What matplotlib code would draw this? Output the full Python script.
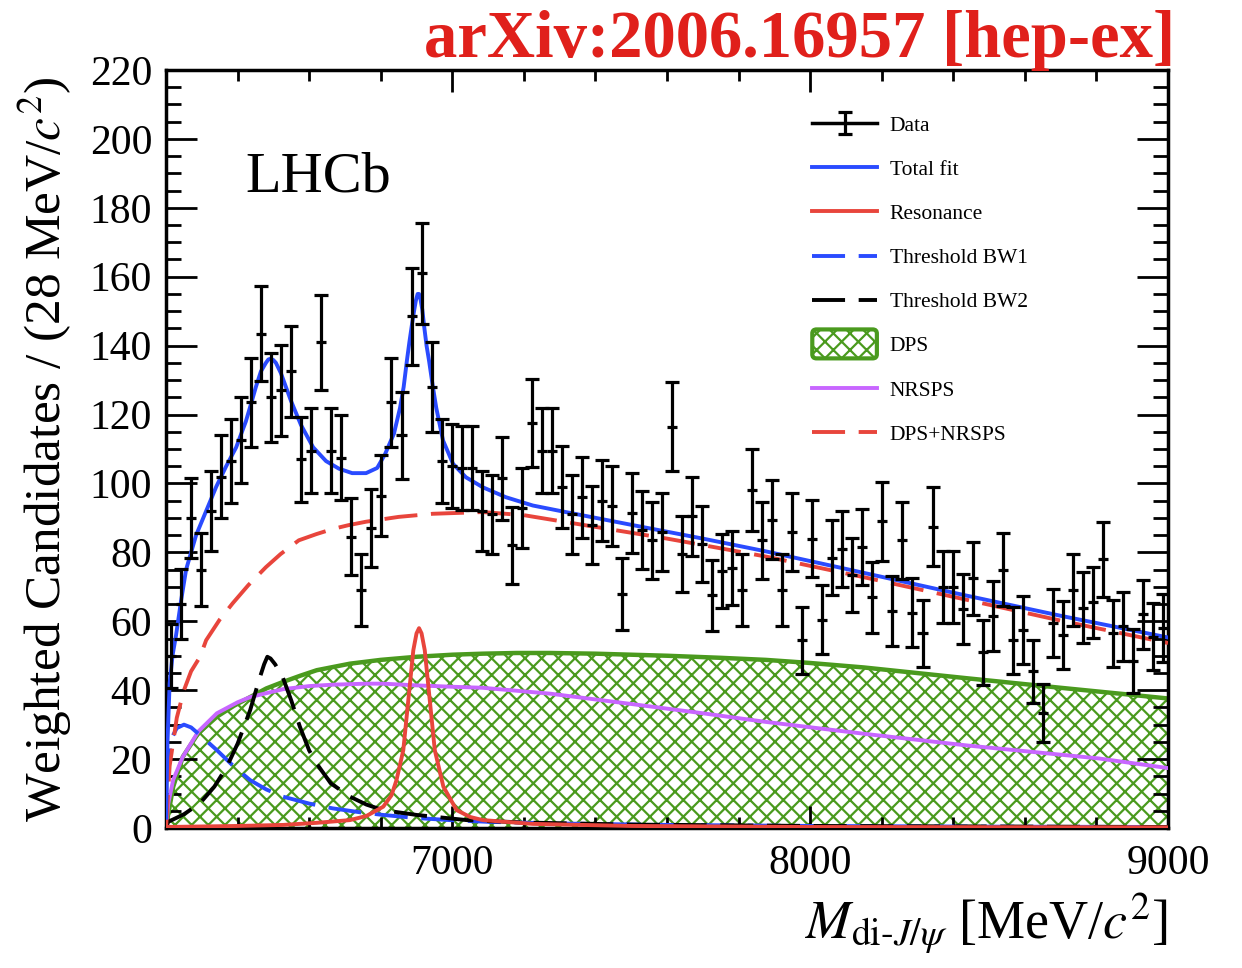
import numpy as np
import matplotlib
matplotlib.use('Agg')
from matplotlib import pyplot as plt
from matplotlib.patches import Patch, FancyBboxPatch
from matplotlib.lines import Line2D
from matplotlib.legend_handler import HandlerPatch
from matplotlib.ticker import MultipleLocator

plt.rcParams['font.family'] = 'serif'
plt.rcParams['font.serif'] = ['Liberation Serif', 'DejaVu Serif']
plt.rcParams['mathtext.fontset'] = 'stix'
plt.rcParams['hatch.linewidth'] = 1.6

# binning of the data (28 MeV bins)
bin_lo, bin_hi, bin_width = 6200, 9000, 28

# weighted candidates per bin
counts = [50, 65, 90, 75, 92, 102, 106.5, 112.5, 123.5, 143.5,
          125, 127, 132.5, 107, 109.5, 141, 109.5, 107.5, 84.5, 69,
          87, 96.5, 123.5, 114, 148.5, 161, 128, 106.5, 105, 104.5,
          104.5, 92, 91, 101.5, 82, 93, 117.5, 109.5, 109.5, 99,
          91, 96, 88, 95, 93.5, 68, 91.5, 86.5, 83.5, 86,
          116.5, 79.5, 90.5, 82.5, 67.5, 74.5, 75.5, 69, 98, 83.5,
          89.5, 69, 86, 54.5, 84, 60.5, 78.5, 81, 73.5, 81.5,
          67, 89, 63, 83.5, 62.5, 56.5, 87.5, 70, 70, 63.5,
          72.5, 51, 61.5, 75, 54.5, 57.5, 45.5, 33.5, 59.5, 56,
          69, 64, 65.5, 78, 56.5, 58.5, 48.5, 62, 55.5, 58]
errors = [9.3, 10.2, 11.5, 10.7, 11.5, 12.1, 12.3, 12.5, 13.0, 13.9,
          13.0, 13.1, 13.3, 12.3, 12.4, 13.8, 12.4, 12.3, 11.2, 10.4,
          11.3, 11.8, 13.0, 12.6, 14.1, 14.6, 13.2, 12.3, 12.2, 12.2,
          12.2, 11.5, 11.5, 12.0, 11.1, 11.6, 12.7, 12.4, 12.4, 12.0,
          11.5, 11.8, 11.4, 11.7, 11.6, 10.4, 11.6, 11.3, 11.2, 11.3,
          12.9, 11.0, 11.5, 11.1, 10.4, 10.7, 10.8, 10.4, 11.9, 11.2,
          11.5, 10.4, 11.3, 9.7, 11.2, 10.0, 10.9, 11.0, 10.7, 11.1,
          10.3, 11.4, 10.1, 11.2, 10.1, 9.8, 11.4, 10.5, 10.5, 10.2,
          10.6, 9.5, 10.1, 10.7, 9.7, 9.9, 9.1, 8.4, 10.0, 9.8,
          10.4, 10.2, 10.3, 10.9, 9.8, 9.9, 9.3, 10.1, 9.7, 9.9]

# fit components
total_m = [6200, 6204, 6210, 6218, 6228, 6242, 6256, 6284, 6312, 6340, 6368,
           6396, 6423, 6440, 6451, 6465, 6479, 6486, 6493, 6500, 6507, 6521,
           6535, 6549, 6577, 6611, 6647, 6683, 6720, 6759, 6790, 6812, 6837,
           6854, 6864, 6873, 6880, 6887, 6893, 6898, 6903, 6907, 6911, 6916,
           6922, 6928, 6935, 6945, 6955, 6974, 7002, 7038, 7085, 7150, 7225,
           7317, 7500, 7700, 7876, 8100, 8435, 8700, 9000]
total_y = [3, 25, 42, 50, 56, 66, 75, 85, 92, 99, 105,
           110.5, 118, 124, 128, 132.5, 135, 136, 136.2, 135.8, 135, 132,
           128, 124, 117, 110.5, 106.5, 104.3, 103, 103, 104.5, 108.5, 114.5,
           122, 128, 135.6, 141, 146, 150, 153, 155, 155, 153.5, 150.5,
           145, 140, 135.6, 128.5, 122, 112.5, 105.7, 101.8, 98.9, 96, 93.6,
           91.7, 88, 84, 80.3, 75.2, 67.5, 61.6, 55.3]

bkg_m = [6200, 6210, 6230, 6250, 6270, 6295, 6312, 6350, 6386, 6430, 6479,
         6520, 6571, 6620, 6666, 6710, 6759, 6850, 6945, 7085, 7200, 7317,
         7600, 7876, 8150, 8435, 8700, 9000]
bkg_y = [0, 18, 32, 40, 45.5, 49.7, 54.5, 60.5, 65.2, 70.5, 75.7,
         79.5, 83.5, 85.3, 86.8, 87.9, 88.9, 90.3, 91.2, 91.7, 90.8, 88.8,
         84, 78.8, 72.8, 66.3, 60.2, 53.7]

dps_m = [6200, 6206, 6220, 6247, 6290, 6342, 6390, 6435, 6480, 6527, 6575,
         6621, 6714, 6800, 6900, 7000, 7085, 7180, 7273, 7400, 7600, 7750,
         7876, 8000, 8150, 8435, 8700, 9000]
dps_y = [0, 4, 12, 20.7, 27.5, 32.3, 35.5, 38, 40.5, 42.4, 44.2,
         45.8, 47.7, 48.8, 49.7, 50.3, 50.6, 50.8, 50.8, 50.6, 50, 49.4,
         48.8, 47.9, 46.6, 43.5, 40.7, 37.6]

nrsps_m = [6200, 6206, 6220, 6247, 6290, 6342, 6400, 6435, 6527, 6600, 6666,
           6760, 6806, 6900, 7000, 7085, 7273, 7500, 7700, 7876, 8155, 8435,
           8806, 9000]
nrsps_y = [0, 7, 14, 20.7, 28, 33.3, 36.5, 38, 40.3, 41.2, 41.6,
           41.9, 41.9, 41.4, 41, 40.7, 39, 36, 33.3, 30.8, 27.3, 24,
           20.2, 17.4]

bw1_m = [6200, 6205, 6215, 6230, 6250, 6270, 6300, 6342, 6390, 6435, 6480,
         6527, 6600, 6666, 6740, 6806, 6900, 6993, 7100, 7300, 7600, 8000,
         8500, 9000]
bw1_y = [0, 18, 26, 29, 30, 29.2, 26.5, 22.6, 17.8, 13.9, 11.2,
         9.1, 7.1, 5.7, 4.6, 3.8, 2.9, 2.3, 1.8, 1.3, 0.9, 0.6,
         0.4, 0.3]

bw2_m = [6200, 6206, 6250, 6295, 6335, 6370, 6400, 6435, 6460, 6474, 6483,
         6492, 6505, 6527, 6550, 6574, 6600, 6621, 6660, 6714, 6760, 6806,
         6900, 7040, 7200, 7500, 8000, 9000]
bw2_y = [0, 1.8, 4, 7.2, 12, 17.8, 24.5, 34.2, 43, 47.5, 49.7,
         49.2, 47.5, 43.5, 37, 29.4, 22.5, 18.7, 13, 9.1, 6.8, 5.2,
         3.8, 2.3, 1.6, 1, 0.6, 0.3]

res_m = [6200, 6400, 6527, 6620, 6714, 6760, 6807, 6830, 6844, 6863, 6877,
         6891, 6900, 6907, 6914, 6923, 6937, 6951, 6975, 7012, 7050, 7085,
         7225, 7500, 8000, 9000]
res_y = [0.3, 0.6, 0.9, 1.5, 2.3, 3.5, 6.2, 9.5, 13.9, 22.6, 37.1,
         51.6, 56.5, 58, 56.5, 51.6, 37.1, 22.6, 12, 5.2, 3.2, 2.3,
         1.2, 0.6, 0.3, 0.2]

blue = '#2a4bff'
red = '#e8453c'
green = '#4a9a1e'
violet = '#c866ff'
dash = (0, (8.5, 3.5))

centers = np.arange(bin_lo + bin_width / 2, bin_hi, bin_width)

fig = plt.figure(figsize=(12.42, 9.68), dpi=100)
ax = fig.add_axes([0.1337, 0.1446, 0.8067, 0.7831])

# DPS hatched area
ax.fill_between(dps_m, 0, dps_y, facecolor='white', edgecolor=green,
                hatch='xx', linewidth=0, zorder=1)
ax.plot(dps_m, dps_y, color=green, lw=3.2, zorder=2)
l_nrsps, = ax.plot(nrsps_m, nrsps_y, color=violet, lw=2.8, zorder=3)
l_bw1, = ax.plot(bw1_m, bw1_y, color=blue, lw=2.8, ls=dash, zorder=3)
l_bw2, = ax.plot(bw2_m, bw2_y, color='black', lw=2.8, ls=dash, zorder=3)
l_res, = ax.plot(res_m, res_y, color=red, lw=2.8, zorder=3)
l_bkg, = ax.plot(bkg_m, bkg_y, color=red, lw=2.8, ls=dash, zorder=4)
l_tot, = ax.plot(total_m, total_y, color=blue, lw=2.8, zorder=5)

# data points
ax.errorbar(centers, counts, xerr=bin_width / 2, fmt='none', ecolor='black',
            elinewidth=2.3, zorder=6)
e2 = ax.errorbar(centers, counts, yerr=errors, fmt='none', ecolor='black',
                 elinewidth=2.3, capsize=5, capthick=2.3, zorder=6)

ax.set_xlim(bin_lo, bin_hi)
ax.set_ylim(0, 220)
ax.xaxis.set_major_locator(MultipleLocator(1000))
ax.xaxis.set_minor_locator(MultipleLocator(200))
ax.yaxis.set_major_locator(MultipleLocator(20))
ax.yaxis.set_minor_locator(MultipleLocator(5))
ax.tick_params(which='both', direction='in', top=True, right=True, width=2)
ax.tick_params(axis='x', which='major', length=16, labelsize=30, pad=12)
ax.tick_params(axis='x', which='minor', length=8)
ax.tick_params(axis='y', which='major', length=22, labelsize=30, pad=10)
ax.tick_params(axis='y', which='minor', length=11)
for s in ax.spines.values():
    s.set_linewidth(2.5)

ax.set_xlabel(r'$M_{\text{di-}J/\psi}$ [MeV/$c^2$]', fontsize=39, loc='right',
              labelpad=6)
ax.set_ylabel('Weighted Candidates / (28 MeV/$c^2$)', fontsize=37)
ax.yaxis.set_label_coords(-0.092, 0.5)

ax.text(0.079, 0.84, 'LHCb', transform=ax.transAxes, fontsize=42)
fig.text(0.946, 0.958, 'arXiv:2006.16957 [hep-ex]', color='#e0201b',
         fontsize=48, fontweight='bold', ha='right', va='center')


def dps_box(legend, orig_handle, xdescent, ydescent, width, height, fontsize):
    return FancyBboxPatch((-xdescent, -ydescent - 5), width, height + 10,
                          boxstyle='round,pad=0,rounding_size=3')


data_handle = (Line2D([], [], color='black', lw=2.5), e2)
dps_handle = Patch(facecolor='white', edgecolor=green, hatch='xx', lw=3)
handles = [data_handle, l_tot, l_res, l_bw1, l_bw2, dps_handle, l_nrsps, l_bkg]
labels = ['Data', 'Total fit', 'Resonance', 'Threshold BW1', 'Threshold BW2',
          'DPS', 'NRSPS', 'DPS+NRSPS']
ax.legend(handles, labels, loc='upper left', bbox_to_anchor=(0.645, 0.94),
          frameon=False, fontsize=15.5, handlelength=3.0, labelspacing=1.12,
          handletextpad=0.6, borderpad=0, borderaxespad=0,
          handler_map={Patch: HandlerPatch(patch_func=dps_box)})

fig.savefig('out.png', dpi=100)
